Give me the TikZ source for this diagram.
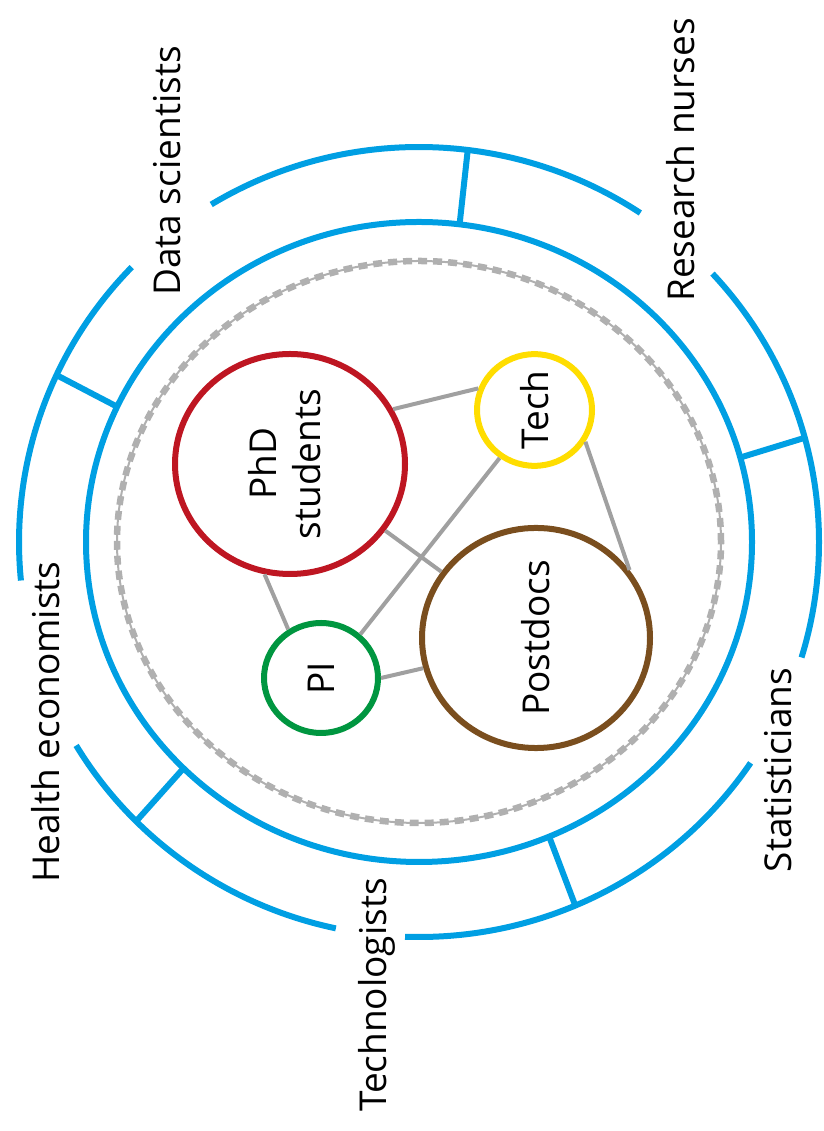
\documentclass[tikz,border=0pt]{standalone}
\usepackage{fontspec}
\setmainfont{Open Sans}
\usepackage{graphicx}
\usetikzlibrary{shapes.geometric}
\definecolor{ringblue}{RGB}{0,159,227}
\definecolor{phdred}{RGB}{190,22,34}
\definecolor{techyellow}{RGB}{255,221,0}
\definecolor{pigreen}{RGB}{0,150,64}
\definecolor{postbrown}{RGB}{122,78,30}
\definecolor{linkgray}{RGB}{160,160,160}
\definecolor{dashgray}{RGB}{176,176,176}
\begin{document}
\begin{tikzpicture}[x=1pt,y=1pt,
  ring/.style={draw=ringblue, line width=6pt},
  member/.style={ellipse, draw, line width=6pt, inner sep=0pt, font=\fontsize{37}{44}\selectfont},
  link/.style={draw=linkgray, line width=4pt},
  grouplabel/.style={rotate=90, font=\fontsize{37}{44}\selectfont, inner sep=0pt},
  dashthin/.style={draw=dashgray, line width=2pt},
  dashthick/.style={draw=dashgray, line width=6.5pt, dash pattern=on 9pt off 6pt}
]
\useasboundingbox (0,0) rectangle (823,1131);
\coordinate (C) at (419,589);
\begin{scope}[shift={(C)}]
  % dashed boundary
  \draw[dashthin] (0,0) ellipse [x radius=302, y radius=281];
  \draw[dashthick] (0,0) ellipse [x radius=302, y radius=281];
  % inner ring
  \draw[ring] (0,0) ellipse [x radius=333, y radius=320];
  % outer arcs
  \draw[ring] (56.4:400 and 395) arc[start angle=56.4, end angle=121.3, x radius=400, y radius=395];
  \draw[ring] (135.9:400 and 395) arc[start angle=135.9, end angle=185.6, x radius=400, y radius=395];
  \draw[ring] (211:400 and 395) arc[start angle=211, end angle=258, x radius=400, y radius=395];
  \draw[ring] (268:400 and 395) arc[start angle=268, end angle=326, x radius=400, y radius=395];
  \draw[ring] (343:400 and 395) arc[start angle=343, end angle=402.8, x radius=400, y radius=395];
  % spokes
  \foreach \a in {83,155,225,293,15.3}
    \draw[ring] (\a:333 and 320) -- (\a:400 and 395);
\end{scope}

% group labels
\node[grouplabel] (ds) at (167,960) {Data scientists};
\node[grouplabel] (rn) at (681,971) {Research nurses};
\node[grouplabel] (he) at (46,409) {Health economists};
\node[grouplabel] (tg) at (377,136) {Technologists};
\node[grouplabel] (st) at (778,361) {Statisticians};

% members
\node[member, draw=phdred, minimum width=230, minimum height=220] (phd) at (290,667)
  {\rotatebox{90}{\begin{tabular}{@{}c@{}}PhD\\students\end{tabular}}};
\node[member, draw=techyellow, minimum width=115, minimum height=110] (tech) at (534.5,721)
  {\rotatebox{90}{Tech}};
\node[member, draw=pigreen, minimum width=114, minimum height=110] (pi) at (321,453)
  {\rotatebox{90}{PI}};
\node[member, draw=postbrown, minimum width=228, minimum height=220] (post) at (536,493)
  {\rotatebox{90}{Postdocs}};

% links
\draw[link] (phd.28) -- (tech.159);
\draw[link] (phd.325) -- (post.145);
\draw[link] (phd.257) -- (pi.124);
\draw[link] (tech.234) -- (pi.48);
\draw[link] (tech.328) -- (post.36);
\draw[link] (pi.0) -- (post.195);
\end{tikzpicture}
\end{document}
